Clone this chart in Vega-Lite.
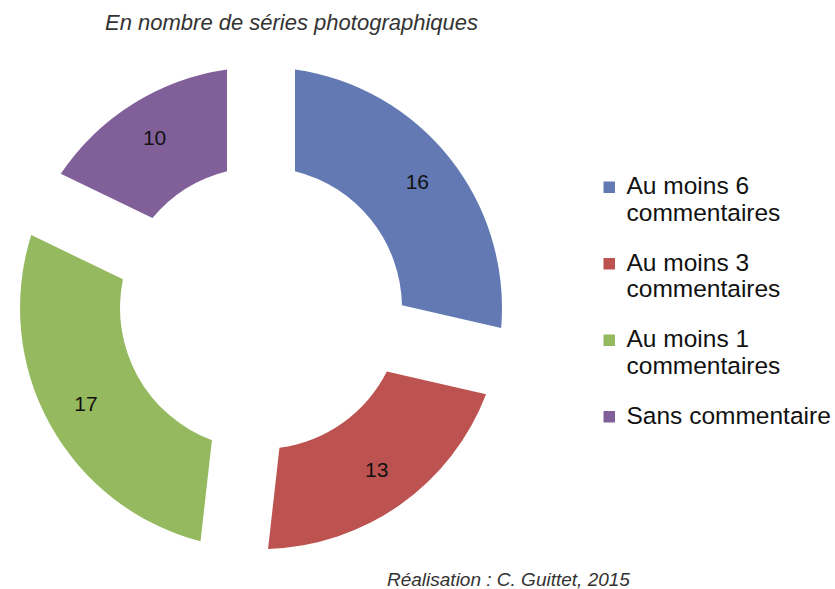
{
  "$schema": "https://vega.github.io/schema/vega-lite/v6.json",
  "padding": {"top": 12, "left": 0, "right": 0, "bottom": 0},
  "background": "white",
  "title": {"text": "En nombre de séries photographiques", "anchor": "start", "frame": "group", "dx": 105, "offset": 8, "font": "Liberation Sans", "fontSize": 22, "fontStyle": "italic", "fontWeight": "normal", "color": "#333333"},
  "vconcat": [{
    "width": 522,
    "height": 530,
    "title": {"text": "Réalisation : C. Guittet, 2015", "orient": "bottom", "anchor": "start", "frame": "group", "dx": 387, "offset": -2, "font": "Liberation Sans", "fontSize": 19, "fontStyle": "italic", "fontWeight": "normal", "color": "#333333"},
    "data": {"values": [
      {"categorie": "Au moins 6 commentaires", "series": 16},
      {"categorie": "Au moins 3 commentaires", "series": 13},
      {"categorie": "Au moins 1 commentaires", "series": 17},
      {"categorie": "Sans commentaire", "series": 10}
    ]},
    "transform": [{"window": [{"op": "row_number", "as": "rang"}]}],
    "encoding": {
      "theta": {"field": "series", "type": "quantitative", "stack": true},
      "order": {"field": "rang", "type": "quantitative", "sort": "ascending"},
      "color": {
        "field": "categorie",
        "type": "nominal",
        "sort": ["Au moins 6 commentaires", "Au moins 3 commentaires", "Au moins 1 commentaires", "Sans commentaire"],
        "scale": {
          "domain": ["Au moins 6 commentaires", "Au moins 3 commentaires", "Au moins 1 commentaires", "Sans commentaire"],
          "range": ["#6279B3", "#BC5350", "#95B95E", "#81609A"]
        },
        "legend": {
          "title": null,
          "orient": "none",
          "legendX": 597,
          "legendY": 132,
          "symbolType": "square",
          "symbolSize": 132,
          "symbolStrokeWidth": 0,
          "labelFont": "Liberation Sans",
          "labelFontSize": 24.5,
          "labelColor": "#111111",
          "labelLimit": 400,
          "labelOffset": 5,
          "rowPadding": 24.5,
          "labelExpr": "datum.label == 'Sans commentaire' ? datum.label : [slice(datum.label, 0, 10), slice(datum.label, 11)]"
        }
      }
    },
    "layer": [
      {"mark": {"type": "arc", "radius": 241, "radius2": 141, "padAngle": 0.244}},
      {
        "mark": {"type": "text", "radius": 200, "font": "Liberation Sans", "fontSize": 21},
        "encoding": {
          "text": {"field": "series", "type": "quantitative"},
          "color": {"value": "#111111"}
        }
      }
    ]
  }],
  "config": {"view": {"stroke": null}, "concat": {"spacing": 0}}
}
